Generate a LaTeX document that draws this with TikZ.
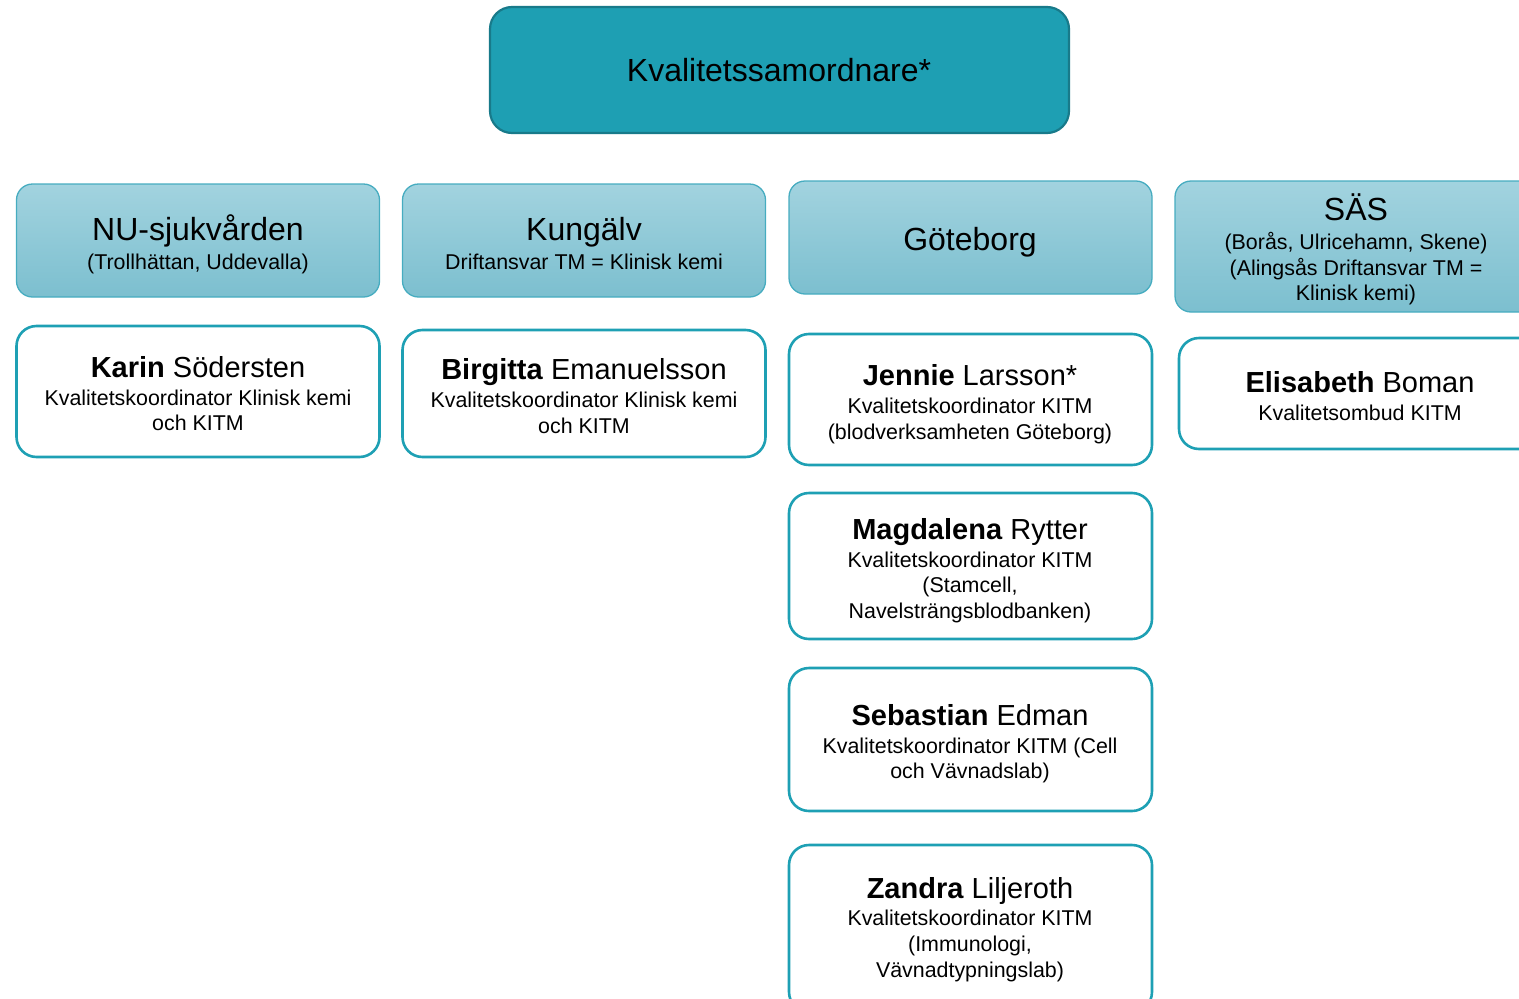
\documentclass[tikz,border=0pt]{standalone}
\usepackage{fontspec}
\setmainfont{Liberation Sans}
\definecolor{topfill}{RGB}{30,159,179}
\definecolor{topdraw}{RGB}{24,122,138}
\definecolor{regtop}{RGB}{162,211,223}
\definecolor{regbot}{RGB}{124,191,207}
\definecolor{regdraw}{RGB}{70,172,192}
\definecolor{perdraw}{RGB}{30,160,180}
\tikzset{
  topbox/.style={draw=topdraw, fill=topfill, line width=2.2pt, rounded corners=22pt, minimum width=579pt, minimum height=126pt, inner sep=0pt},
  regbox/.style={draw=regdraw, top color=regtop, bottom color=regbot, line width=1.3pt, rounded corners=16pt, minimum width=363pt, inner sep=0pt},
  perbox/.style={draw=perdraw, fill=white, line width=2.6pt, rounded corners=20pt, minimum width=363pt, inner sep=0pt},
  ttl/.style={anchor=base, inner sep=0pt, font=\fontsize{32}{38}\selectfont},
  sub/.style={anchor=base, inner sep=0pt, font=\fontsize{21.4}{25}\selectfont},
  nm/.style={anchor=base, inner sep=0pt, font=\fontsize{29}{34}\selectfont},
}
\begin{document}
\begin{tikzpicture}[x=1pt,y=-1pt]
\useasboundingbox (0,0) rectangle (1519,999);
\clip (0,0) rectangle (1519,999);
% top
\node[topbox] (top) at (779.5,70) {};
\node[ttl] (toptext) at (779,81.5) {Kvalitetssamordnare*};
% regions
\node[regbox, minimum height=113pt] (nu) at (198,240.5) {};
\node[ttl] (nut) at (198,240.5) {NU-sjukvården};
\node[sub] (nus) at (198,269) {(Trollhättan, Uddevalla)};
\node[regbox, minimum height=113pt] (kg) at (584,240.5) {};
\node[ttl] (kgt) at (584,240.5) {Kungälv};
\node[sub] (kgs) at (584,269) {Driftansvar TM = Klinisk kemi};
\node[regbox, minimum height=113pt] (gb) at (970.5,237.5) {};
\node[ttl] (gbt) at (970,250.5) {Göteborg};
\node[regbox, minimum height=131pt, minimum width=362pt] (sas) at (1356,246.5) {};
\node[ttl] (sast) at (1356,220.5) {SÄS};
\node[sub] (sass1) at (1356,249) {(Borås, Ulricehamn, Skene)};
\node[sub] (sass2) at (1356,275) {(Alingsås Driftansvar TM =};
\node[sub] (sass3) at (1356,300) {Klinisk kemi)};
% persons
\node[perbox, minimum height=131pt] (karin) at (198,391.5) {};
\node[nm] (karinn) at (198,377.4) {\textbf{Karin} Södersten};
\node[sub] (karin1) at (198,405) {Kvalitetskoordinator Klinisk kemi};
\node[sub] (karin2) at (198,430) {och KITM};
\node[perbox, minimum height=127pt] (birg) at (584,393.5) {};
\node[nm] (birgn) at (584,379.4) {\textbf{Birgitta} Emanuelsson};
\node[sub] (birg1) at (584,407) {Kvalitetskoordinator Klinisk kemi};
\node[sub] (birg2) at (584,433) {och KITM};
\node[perbox, minimum height=131pt] (jen) at (970.5,399.5) {};
\node[nm] (jenn) at (970,385.4) {\textbf{Jennie} Larsson*};
\node[sub] (jen1) at (970,413) {Kvalitetskoordinator KITM};
\node[sub] (jen2) at (970,439) {(blodverksamheten Göteborg)};
\node[perbox, minimum height=111pt, minimum width=362pt] (eli) at (1360,393.5) {};
\node[nm] (elin) at (1360,392.4) {\textbf{Elisabeth} Boman};
\node[sub] (eli1) at (1360,420) {Kvalitetsombud KITM};
\node[perbox, minimum height=146pt] (mag) at (970.5,566) {};
\node[nm] (magn) at (970,539.4) {\textbf{Magdalena} Rytter};
\node[sub] (mag1) at (970,567) {Kvalitetskoordinator KITM};
\node[sub] (mag2) at (970,592) {(Stamcell,};
\node[sub] (mag3) at (970,618) {Navelsträngsblodbanken)};
\node[perbox, minimum height=143pt] (seb) at (970.5,739.5) {};
\node[nm] (sebn) at (970,725.4) {\textbf{Sebastian} Edman};
\node[sub] (seb1) at (970,753) {Kvalitetskoordinator KITM (Cell};
\node[sub] (seb2) at (970,778) {och Vävnadslab)};
\node[perbox, minimum height=167pt] (zan) at (970.5,928.5) {};
\node[nm] (zann) at (970,898.4) {\textbf{Zandra} Liljeroth};
\node[sub] (zan1) at (970,925) {Kvalitetskoordinator KITM};
\node[sub] (zan2) at (970,951) {(Immunologi,};
\node[sub] (zan3) at (970,977) {Vävnadtypningslab)};
\end{tikzpicture}
\end{document}
